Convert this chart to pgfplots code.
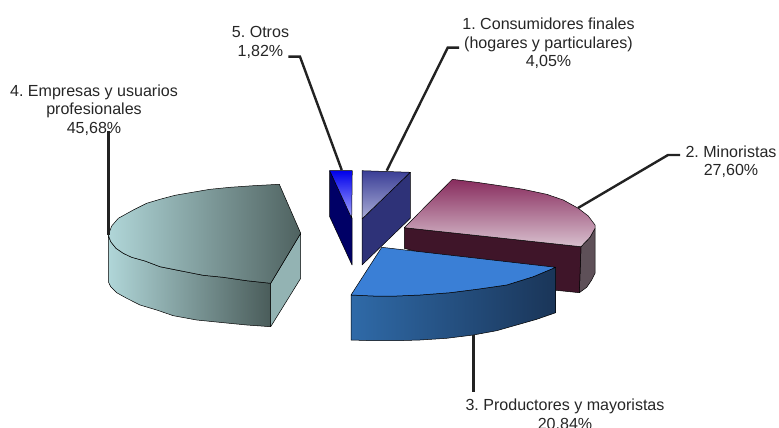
\documentclass[border=0pt]{standalone}
\usepackage{pgfplots}
\pgfplotsset{compat=1.18}
\usepackage{fontspec}
\setmainfont{Liberation Sans}

\definecolor{labeltxt}{HTML}{262626}
\definecolor{leader}{HTML}{222222}

\begin{document}
\frenchspacing
\begin{tikzpicture}
\clip (0,0) rectangle (779pt,428pt);
\begin{axis}[
    at={(0,0)}, anchor=south west,
    width=779pt, height=428pt, scale only axis,
    xmin=0, xmax=779, ymin=0, ymax=428,
    y dir=reverse,
    hide axis, clip=false,
    every axis plot/.append style={no marks, line join=round},
    slice/.style={draw=black, line width=0.5pt},
    lead/.style={draw=leader, line width=2.4pt, line join=miter},
]

% 5. Otros
\addplot[slice, fill=blue!40!black] coordinates {(329.7,170.7) (329.7,216.7) (352,265) (352,218)} -- cycle;
\addplot[slice, top color=blue!92!black, bottom color=blue!35!white] coordinates {(329.7,170.7) (352.3,170.7) (351.7,218.3)} -- cycle;

% 1. Consumidores finales
\addplot[slice, fill={rgb,255:red,46;green,50;blue,120}] coordinates {(410.3,172.3) (410.3,218.3) (362,265) (362,219)} -- cycle;
\addplot[slice, top color={rgb,255:red,58;green,62;blue,150}, bottom color={rgb,255:red,170;green,173;blue,215}] coordinates {(362,170.7) (410.3,172.3) (362,219)} -- cycle;

% 2. Minoristas
\addplot[slice, fill={rgb,255:red,94;green,80;blue,88}] coordinates {
    (581,246.7) (590,237.3) (595,228.3) (595,273.3) (591.7,280) (586.7,287.3) (579.3,292.7)} -- cycle;
\addplot[slice, fill={rgb,255:red,63;green,21;blue,41}] coordinates {(404.3,227.7) (581,246.7) (579.3,292.7) (553.3,290) (404.3,248.3)} -- cycle;
\addplot[slice, top color={rgb,255:red,136;green,44;blue,94}, bottom color={rgb,255:red,216;green,192;blue,206}] coordinates {
    (452.3,179.3) (476.7,182.3) (500,185.7) (523.3,189.3) (546.7,194.3) (563.3,200) (578.3,208.3) (588.3,216) (595,225)
    (595,228.3) (590,237.3) (581,246.7) (404.3,227.7)} -- cycle;

% 4. Empresas y usuarios profesionales
\addplot[slice, fill={rgb,255:red,147;green,179;blue,179}] coordinates {(270.7,283.3) (300.7,233.3) (300.7,278.3) (270.7,326.7)} -- cycle;
\addplot[slice, left color={rgb,255:red,176;green,214;blue,216}, right color={rgb,255:red,74;green,92;blue,90}] coordinates {
    (108.3,235) (110.7,241.7) (116,248.3) (123.3,253.3) (131.7,257.3) (145,261) (160,266.7) (180,270.7) (203.3,275.3) (223.3,277.3) (246.7,280.7) (270.7,283.3)
    (270.7,326.7) (246.7,325) (223.3,322.7) (196.7,320) (173.3,315.7) (156.7,310) (140,305) (126.7,298.3) (116.7,292.7) (110.7,286.7) (108.3,281.7)} -- cycle;
\addplot[slice, left color={rgb,255:red,176;green,214;blue,216}, right color={rgb,255:red,79;green,98;blue,96}] coordinates {
    (279.3,184.3) (300.7,233.3) (270.7,283.3) (246.7,280.7) (223.3,277.3) (203.3,275.3) (180,270.7) (160,266.7) (145,261) (131.7,257.3) (123.3,253.3) (116,248.3) (110.7,241.7) (108.3,235)
    (111.7,226) (118.3,218.3) (133.3,210) (146.7,203.3) (160,199.3) (175,195.3) (190,192.7) (210,189.3) (230,187.3) (253.3,185.7)} -- cycle;

% 3. Productores y mayoristas
\addplot[slice, left color={rgb,255:red,47;green,106;blue,168}, right color={rgb,255:red,26;green,53;blue,88}] coordinates {
    (351,295) (373.3,296) (396.7,296) (420,295) (450,292.7) (476.7,289.3) (506.7,285) (533.3,276.7) (555.7,267.3)
    (555.7,312.7) (536.7,319.3) (516.7,325) (496.7,330.7) (473.3,335) (446.7,338.3) (420,340) (396.7,340.7) (373.3,340.7) (351,340)} -- cycle;
\addplot[slice, fill={rgb,255:red,58;green,127;blue,214}] coordinates {
    (381.7,247.3) (555.7,267.3) (533.3,276.7) (506.7,285) (476.7,289.3) (450,292.7) (420,295) (396.7,296) (373.3,296) (351,295)} -- cycle;

% leader lines
\addplot[lead] coordinates {(288.3,56.7) (300,56.7) (341.7,170)};
\addplot[lead] coordinates {(459,47.7) (447.7,47.7) (386.7,170.7)};
\addplot[lead] coordinates {(578,208) (668,155) (680,155)};
\addplot[lead] coordinates {(473.3,335) (473.3,392)};
\addplot[lead] coordinates {(108.3,235) (108.3,131)};

\end{axis}

\begin{scope}[y=-1pt, x=1pt, shift={(0,428pt)}]
\tikzset{lbl/.style={align=center, text=labeltxt, inner sep=0pt, font=\fontsize{16.05}{18.8}\selectfont}}
\node[lbl] at (548.5,43.3) {1. Consumidores finales\\(hogares y particulares)\\4,05\%};
\node[lbl] at (260.5,42.5) {5. Otros\\1,82\%};
\node[lbl] at (94,110.2) {4. Empresas y usuarios\\profesionales\\45,68\%};
\node[lbl] at (731,161.7) {2. Minoristas\\27,60\%};
\node[lbl] at (565,415) {3. Productores y mayoristas\\20,84\%};
\end{scope}
\end{tikzpicture}
\end{document}
